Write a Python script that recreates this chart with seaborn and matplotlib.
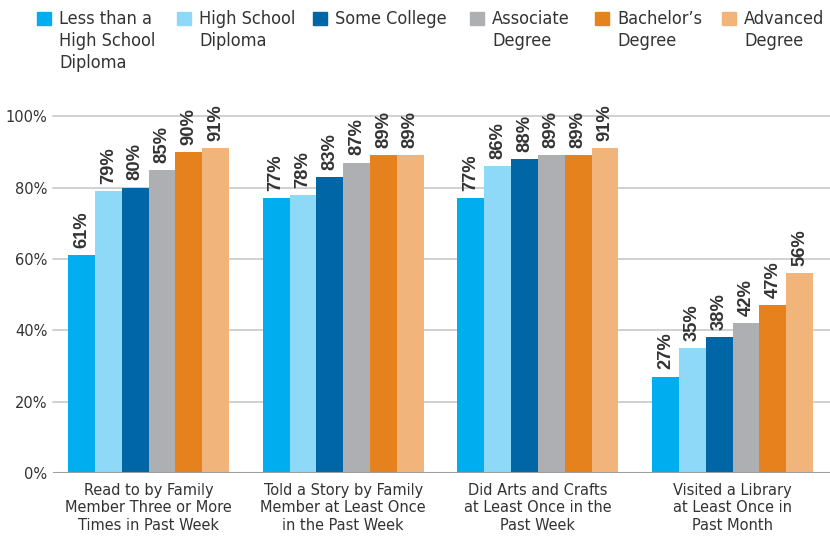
import pandas as pd
import matplotlib.pyplot as plt
import seaborn as sns
from matplotlib import font_manager as fm

activities = [
    'Read to by Family\nMember Three or More\nTimes in Past Week',
    'Told a Story by Family\nMember at Least Once\nin the Past Week',
    'Did Arts and Crafts\nat Least Once in the\nPast Week',
    'Visited a Library\nat Least Once in\nPast Month',
]
education = [
    'Less than a\nHigh School\nDiploma',
    'High School\nDiploma',
    'Some College',
    'Associate\nDegree',
    "Bachelor’s\nDegree",
    'Advanced\nDegree',
]
less_than_hs = [61, 77, 77, 27]
high_school = [79, 78, 86, 35]
some_college = [80, 83, 88, 38]
associate = [85, 87, 89, 42]
bachelors = [90, 89, 89, 47]
advanced = [91, 89, 91, 56]
colors = ['#00AEEF', '#8ED8F8', '#0066A6', '#AEAFB2', '#E6821E', '#F1B47A']

series = [less_than_hs, high_school, some_college, associate, bachelors, advanced]
rows = []
for edu, vals in zip(education, series):
    for act, v in zip(activities, vals):
        rows.append({'Activity': act, 'Education': edu, 'Percent': v})
df = pd.DataFrame(rows)

sns.set_theme(style='white')

# pick a narrow font if one is around
fonts = fm.fontManager.ttflist
names = {f.name for f in fonts}
if 'Liberation Sans Narrow' in names:
    plt.rcParams['font.family'] = ['Liberation Sans Narrow', 'DejaVu Sans']
    fs, fs_leg = 12.5, 13.5
elif any(f.name == 'DejaVu Sans' and 'condensed' in str(f.stretch) for f in fonts):
    plt.rcParams['font.family'] = ['DejaVu Sans']
    plt.rcParams['font.stretch'] = 'condensed'
    fs, fs_leg = 11.7, 13
else:
    plt.rcParams['font.family'] = ['Liberation Sans', 'DejaVu Sans']
    fs, fs_leg = 11, 12
txt = '#333333'

fig = plt.figure(figsize=(8.3, 5.38), dpi=100)
ax = fig.add_axes([0.064, 0.121, 0.936, 0.663])

sns.barplot(data=df, x='Activity', y='Percent', hue='Education',
            hue_order=education, order=activities, palette=colors,
            width=0.827, saturation=1, linewidth=0, legend=False, ax=ax)

for cont in ax.containers:
    for bar in cont:
        h = bar.get_height()
        ax.text(bar.get_x() + bar.get_width() / 2, h + 2.0, f'{h:.0f}%',
                rotation=90, ha='center', va='bottom', fontsize=13.2,
                fontweight='bold', family='Liberation Sans', stretch='normal',
                color=txt, clip_on=False)

ax.set_ylim(0, 100)
ax.set_xlim(-0.49, 3.5)
ax.set_yticks([0, 20, 40, 60, 80, 100])
ax.set_yticklabels([f'{t}%' for t in [0, 20, 40, 60, 80, 100]])
for t in [20, 40, 60, 80, 100]:
    ax.axhline(t, color='#C8C8C8', lw=1.2, zorder=0, clip_on=False)
ax.axhline(0, color='#A0A0A0', lw=1.5, zorder=3)
for s in ax.spines.values():
    s.set_visible(False)
ax.set_xlabel('')
ax.set_ylabel('')
ax.tick_params(axis='both', length=0, labelsize=fs, colors=txt, pad=7)
ax.tick_params(axis='y', pad=4)
for lab in ax.get_xticklabels():
    lab.set_linespacing(1.22)

# legend drawn by hand so the swatches sit on the first text line
leg_box = [37, 177, 313, 470, 595, 722]
for x0, lab, c in zip(leg_box, education, colors):
    fig.patches.append(plt.Rectangle((x0 / 830, 1 - 25 / 538), 14 / 830, 13 / 538,
                                     transform=fig.transFigure, color=c))
    fig.text((x0 + 22) / 830, 1 - 10 / 538, lab, ha='left', va='top',
             fontsize=fs_leg, color=txt, linespacing=1.28)

fig.savefig('out.png', dpi=100)
